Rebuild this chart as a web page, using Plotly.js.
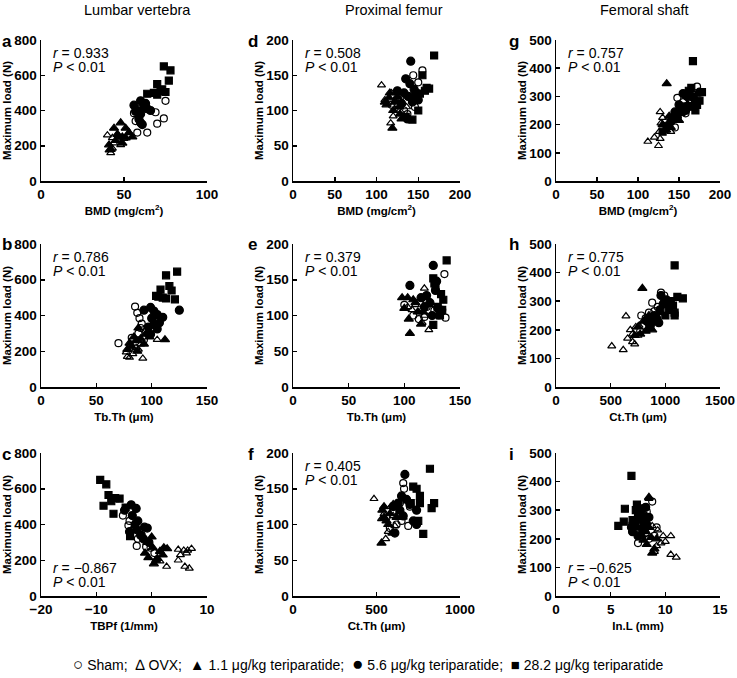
<!DOCTYPE html>
<html>
<head>
<meta charset="utf-8">
<script src="https://cdn.plot.ly/plotly-3.0.1.min.js"></script>
<style>html,body{margin:0;padding:0;background:#fff;}#chart{width:737px;height:678px;}</style>
</head>
<body>
<div id="chart"></div>
<script>
// ---------- DATA ----------
const groupNames = ['Sham', 'OVX', '1.1 μg/kg teriparatide', '5.6 μg/kg teriparatide', '28.2 μg/kg teriparatide'];
const legendGlyphs = ['○', '∆', '▲', '●', '■'];
const columnTitles = ['Lumbar vertebra', 'Proximal femur', 'Femoral shaft'];
const panelLetters = ['a', 'b', 'c', 'd', 'e', 'f', 'g', 'h', 'i'];
const xTitles = ['BMD (mg/cm<sup>2</sup>)', 'Tb.Th (μm)', 'TBPf (1/mm)', 'BMD (mg/cm<sup>2</sup>)', 'Tb.Th (μm)', 'Ct.Th (μm)', 'BMD (mg/cm<sup>2</sup>)', 'Ct.Th (μm)', 'In.L (mm)'];
const yTitle = 'Maximum load (N)';
const rValues = ['0.933', '0.786', '−0.867', '0.508', '0.379', '0.405', '0.757', '0.775', '−0.625'];
const pText = '<i>P</i> < 0.01';
const xRanges = [[0, 100], [0, 150], [-20, 10], [0, 200], [0, 150], [0, 1000], [0, 200], [0, 1500], [0, 15]];
const xDticks = [50, 50, 10, 50, 50, 500, 50, 500, 5];
const yRanges = [[0, 800], [0, 800], [0, 800], [0, 200], [0, 200], [0, 200], [0, 500], [0, 500], [0, 500]];
const yDticks = [200, 200, 200, 50, 50, 50, 100, 100, 100];

// a: Lumbar vertebra, BMD
const a_sham_x = [75, 74, 69, 70, 64, 58, 56, 59, 62, 57];
const a_sham_y = [455, 355, 390, 325, 275, 275, 385, 410, 420, 340];
const a_ovx_x = [40, 41, 42, 43, 44, 46, 48, 43, 47, 50];
const a_ovx_y = [260, 175, 160, 185, 215, 235, 205, 245, 255, 240];
const a_t1_x = [48, 44, 51, 53, 46, 49, 55, 45, 51, 41, 42, 49];
const a_t1_y = [330, 300, 300, 275, 265, 250, 250, 230, 245, 205, 180, 215];
const a_t5_x = [56, 60, 62, 58, 60, 64, 59, 60, 61, 66, 57, 63];
const a_t5_y = [430, 455, 420, 400, 380, 410, 350, 330, 320, 400, 395, 440];
const a_t28_x = [74, 78, 77, 70, 75, 70, 64, 72, 68, 73];
const a_t28_y = [650, 628, 570, 550, 505, 490, 495, 510, 500, 520];

// b: Lumbar vertebra, Tb.Th
const b_sham_x = [70, 85, 87, 89, 91, 82, 88, 93, 90, 95];
const b_sham_y = [245, 450, 415, 385, 355, 275, 300, 265, 330, 310];
const b_ovx_x = [77, 78, 80, 83, 86, 90, 92, 88, 105, 81];
const b_ovx_y = [195, 170, 165, 185, 220, 240, 160, 210, 265, 240];
const b_t1_x = [88, 95, 84, 90, 86, 80, 93, 82, 78, 98, 112, 87];
const b_t1_y = [330, 300, 280, 270, 260, 245, 240, 225, 210, 280, 265, 200];
const b_t5_x = [93, 99, 102, 105, 100, 102, 105, 99, 110, 125, 97, 107];
const b_t5_y = [430, 445, 425, 405, 385, 350, 325, 295, 390, 430, 335, 360];
const b_t28_x = [113, 123, 116, 108, 118, 110, 106, 121, 113, 104];
const b_t28_y = [625, 645, 565, 545, 540, 500, 505, 490, 495, 510];

// c: Lumbar vertebra, TBPf
const c_sham_x = [-5.2, -4.2, -3.2, -2.5, -2.7, -1, -0.2, 0.5, -4, -1.8];
const c_sham_y = [450, 395, 375, 320, 280, 275, 270, 240, 420, 340];
const c_ovx_x = [4.8, 5.8, 6.5, 7.2, 5.2, 6.3, 4.8, 6, 6.8, 2.7, 1.5];
const c_ovx_y = [260, 255, 255, 265, 230, 240, 200, 165, 155, 165, 195];
const c_t1_x = [0, -0.8, 0.2, 1.5, 2.2, 2.8, 0.4, -0.6, 1, 2, -1.2, 0.8];
const c_t1_y = [330, 300, 270, 250, 270, 265, 180, 215, 210, 230, 240, 200];
const c_t5_x = [-3.7, -2.8, -4.9, -3.5, -2.5, -1.3, -0.8, -3, -4, -2, -1.5, -0.5, -2.7];
const c_t5_y = [510, 490, 480, 450, 420, 385, 380, 400, 360, 340, 320, 300, 370];
const c_t28_x = [-9.3, -8.2, -7.8, -6.6, -8.7, -6.9, -5.8, -7.3, -4.7, -3.9];
const c_t28_y = [650, 625, 565, 548, 505, 460, 545, 530, 495, 335];

// d: Proximal femur, BMD
const d_sham_x = [144, 155, 140, 133, 137, 125, 150, 146, 128, 118];
const d_sham_y = [150, 157, 120, 100, 95, 110, 140, 105, 118, 108];
const d_ovx_x = [106, 117, 120, 113, 123, 128, 132, 118, 110, 136];
const d_ovx_y = [136, 82, 92, 110, 115, 100, 125, 125, 115, 105];
const d_t1_x = [119, 115, 112, 120, 125, 128, 116, 122, 130, 110, 127];
const d_t1_y = [75, 118, 108, 100, 120, 95, 125, 112, 88, 112, 105];
const d_t5_x = [141, 135, 140, 145, 138, 143, 148, 133, 130, 137, 150, 125];
const d_t5_y = [170, 145, 138, 130, 120, 112, 125, 125, 110, 88, 115, 128];
const d_t28_x = [169, 160, 163, 152, 146, 143, 135, 155, 150, 158];
const d_t28_y = [178, 132, 131, 124, 118, 87, 91, 150, 100, 128];

// e: Proximal femur, Tb.Th
const e_sham_x = [136, 100, 137, 131, 127, 120, 113, 108, 134, 118];
const e_sham_y = [158, 115, 97, 100, 107, 112, 95, 100, 108, 98];
const e_ovx_x = [118, 110, 122, 116, 113, 120, 107, 125, 118, 103];
const e_ovx_y = [138, 115, 80, 90, 105, 120, 108, 115, 100, 112];
const e_t1_x = [98, 103, 108, 105, 104, 112, 115, 110, 100, 117, 120];
const e_t1_y = [125, 125, 122, 75, 95, 105, 88, 118, 110, 105, 125];
const e_t5_x = [126, 105, 129, 120, 123, 130, 125, 118, 128, 115];
const e_t5_y = [170, 142, 148, 128, 118, 110, 100, 112, 135, 125];
const e_t28_x = [138, 126, 127, 133, 135, 130, 126, 128, 132, 134];
const e_t28_y = [177, 152, 145, 130, 122, 112, 87, 140, 100, 108];

// f: Proximal femur, Ct.Th
const f_sham_x = [660, 665, 640, 600, 620, 690, 560, 650, 580, 700];
const f_sham_y = [158, 150, 130, 118, 100, 98, 110, 105, 95, 125];
const f_ovx_x = [485, 555, 530, 570, 600, 640, 545, 610, 660, 585];
const f_ovx_y = [136, 80, 108, 90, 112, 120, 115, 98, 110, 125];
const f_t1_x = [530, 535, 545, 560, 580, 600, 620, 570, 640, 545, 595];
const f_t1_y = [74, 120, 125, 105, 115, 128, 110, 100, 118, 110, 88];
const f_t5_x = [670, 650, 640, 700, 720, 740, 610, 660, 680, 740, 630, 600];
const f_t5_y = [170, 140, 120, 128, 105, 120, 88, 112, 135, 100, 130, 125];
const f_t28_x = [820, 845, 830, 760, 740, 720, 780, 705, 750, 760];
const f_t28_y = [178, 130, 123, 140, 150, 153, 87, 130, 105, 130];

// g: Femoral shaft, BMD
const g_sham_x = [172, 148, 145, 140, 150, 155, 158, 160, 142, 165];
const g_sham_y = [335, 295, 190, 210, 250, 280, 240, 260, 225, 290];
const g_ovx_x = [112, 125, 120, 127, 126, 128, 127, 135, 140, 137, 130];
const g_ovx_y = [140, 125, 155, 150, 175, 205, 245, 180, 175, 200, 225];
const g_t1_x = [135, 130, 138, 145, 150, 148, 155, 140, 160, 133, 152];
const g_t1_y = [345, 200, 230, 235, 215, 250, 260, 190, 270, 180, 240];
const g_t5_x = [155, 145, 150, 160, 165, 170, 140, 148, 158, 175, 135, 165];
const g_t5_y = [310, 245, 270, 300, 300, 280, 210, 225, 250, 315, 195, 265];
const g_t28_x = [167, 165, 162, 178, 175, 170, 160, 130, 168, 172];
const g_t28_y = [425, 330, 320, 315, 285, 250, 265, 175, 300, 270];

// h: Femoral shaft, Ct.Th
const h_sham_x = [960, 880, 850, 780, 800, 770, 900, 930, 990, 820];
const h_sham_y = [330, 295, 260, 250, 215, 195, 265, 280, 320, 240];
const h_ovx_x = [510, 615, 640, 655, 700, 720, 730, 680, 750, 760, 700];
const h_ovx_y = [143, 130, 248, 170, 158, 150, 210, 200, 180, 215, 185];
const h_t1_x = [790, 750, 720, 770, 800, 860, 880, 900, 950, 820, 850];
const h_t1_y = [345, 210, 180, 185, 230, 220, 200, 240, 260, 195, 250];
const h_t5_x = [960, 1000, 980, 950, 920, 880, 860, 1010, 900, 940, 1040, 830];
const h_t5_y = [320, 300, 290, 270, 240, 230, 210, 305, 250, 225, 285, 230];
const h_t28_x = [1085, 1110, 1160, 1070, 1085, 1085, 1000, 1050, 990, 1030];
const h_t28_y = [425, 315, 310, 285, 260, 250, 250, 300, 290, 270];

// i: Femoral shaft, In.L
const i_sham_x = [8.8, 8.3, 9.2, 8, 7.5, 8.5, 7.8, 9, 7.2, 8.2];
const i_sham_y = [330, 295, 240, 255, 185, 200, 230, 210, 250, 220];
const i_ovx_x = [11, 10.5, 9.8, 10.5, 9.2, 9, 9.6, 8.8, 8.5, 10, 9.3];
const i_ovx_y = [135, 145, 210, 210, 175, 155, 185, 245, 340, 190, 230];
const i_t1_x = [8.5, 8.3, 8, 8.7, 9, 7.8, 8.2, 8.8, 7.5, 9.2, 8.5];
const i_t1_y = [345, 180, 195, 205, 165, 215, 225, 150, 240, 200, 240];
const i_t5_x = [7.8, 8.2, 7, 7.5, 8.1, 7.6, 8.5, 7.2, 8, 7.9, 6.9, 8.3];
const i_t5_y = [305, 310, 225, 210, 280, 270, 275, 250, 260, 235, 240, 250];
const i_t28_x = [6.9, 6.3, 6.2, 5.7, 7, 7.4, 7.5, 7.6, 7.3, 7];
const i_t28_y = [420, 305, 260, 245, 245, 320, 290, 275, 300, 265];

const panelData = [
  [[a_sham_x, a_sham_y], [a_ovx_x, a_ovx_y], [a_t1_x, a_t1_y], [a_t5_x, a_t5_y], [a_t28_x, a_t28_y]],
  [[b_sham_x, b_sham_y], [b_ovx_x, b_ovx_y], [b_t1_x, b_t1_y], [b_t5_x, b_t5_y], [b_t28_x, b_t28_y]],
  [[c_sham_x, c_sham_y], [c_ovx_x, c_ovx_y], [c_t1_x, c_t1_y], [c_t5_x, c_t5_y], [c_t28_x, c_t28_y]],
  [[d_sham_x, d_sham_y], [d_ovx_x, d_ovx_y], [d_t1_x, d_t1_y], [d_t5_x, d_t5_y], [d_t28_x, d_t28_y]],
  [[e_sham_x, e_sham_y], [e_ovx_x, e_ovx_y], [e_t1_x, e_t1_y], [e_t5_x, e_t5_y], [e_t28_x, e_t28_y]],
  [[f_sham_x, f_sham_y], [f_ovx_x, f_ovx_y], [f_t1_x, f_t1_y], [f_t5_x, f_t5_y], [f_t28_x, f_t28_y]],
  [[g_sham_x, g_sham_y], [g_ovx_x, g_ovx_y], [g_t1_x, g_t1_y], [g_t5_x, g_t5_y], [g_t28_x, g_t28_y]],
  [[h_sham_x, h_sham_y], [h_ovx_x, h_ovx_y], [h_t1_x, h_t1_y], [h_t5_x, h_t5_y], [h_t28_x, h_t28_y]],
  [[i_sham_x, i_sham_y], [i_ovx_x, i_ovx_y], [i_t1_x, i_t1_y], [i_t5_x, i_t5_y], [i_t28_x, i_t28_y]]
];

// ---------- STYLE / LAYOUT ----------
const W = 737, H = 678;
const FONT = 'Arial, "Liberation Sans", Helvetica, sans-serif';
const symbols = ['circle-open', 'triangle-up-open', 'triangle-up', 'circle', 'square'];
const sizes = [7, 7, 8, 8, 7];
const glyphSizes = [17, 15, 15, 19, 15];
// pixel boxes of plot areas: columns (left,right), rows (top,bottom)
const colPx = [[41, 207], [293, 460], [556, 720]];
const rowPx = [[40, 181], [244, 387], [453, 596]];

const traces = [];
const layout = {
  width: W, height: H,
  margin: {l: 0, r: 0, t: 0, b: 0},
  paper_bgcolor: '#fff', plot_bgcolor: '#fff',
  font: {family: FONT, color: '#000'},
  showlegend: false,
  annotations: []
};

for (let p = 0; p < 9; p++) {
  const col = Math.floor(p / 3), row = p % 3;
  const n = p + 1;
  const xa = 'xaxis' + (n === 1 ? '' : n), ya = 'yaxis' + (n === 1 ? '' : n);
  const xr = 'x' + (n === 1 ? '' : n), yr = 'y' + (n === 1 ? '' : n);
  const axisCommon = {
    showline: true, linecolor: '#000', linewidth: 1.5, mirror: false,
    ticks: 'inside', ticklen: 4, tickwidth: 1.5, tickcolor: '#000',
    showgrid: false, zeroline: false, fixedrange: true,
    tickfont: {family: FONT, size: 13.5, color: '#000', weight: 'bold'}
  };
  layout[xa] = Object.assign({}, axisCommon, {
    domain: [colPx[col][0] / W, colPx[col][1] / W],
    anchor: yr, range: xRanges[p], dtick: xDticks[p], tick0: 0,
    title: {text: xTitles[p], font: {family: FONT, size: 11.5, color: '#000', weight: 'bold'}, standoff: 6}
  });
  layout[ya] = Object.assign({}, axisCommon, {
    domain: [1 - rowPx[row][1] / H, 1 - rowPx[row][0] / H],
    anchor: xr, range: yRanges[p], dtick: yDticks[p], tick0: 0,
    title: {text: yTitle, font: {family: FONT, size: 11.5, color: '#000', weight: 'bold'}, standoff: 0}
  });
  panelData[p].forEach((g, k) => {
    traces.push({
      type: 'scatter', mode: 'markers', x: g[0], y: g[1],
      xaxis: xr, yaxis: yr, name: groupNames[k],
      cliponaxis: false,
      marker: {symbol: symbols[k], size: sizes[k], color: '#000', line: {color: '#000', width: 1.2}}
    });
  });
  // panel letter
  const letterX = [0, 246, 507][col];
  layout.annotations.push({
    xref: 'paper', yref: 'paper', x: letterX / W, y: 1 - (rowPx[row][0] + 1) / H,
    xanchor: 'left', yanchor: 'middle', showarrow: false,
    text: panelLetters[p], font: {family: FONT, size: 17, color: '#000', weight: 'bold'}
  });
  // r and P
  const bottom = (p === 2 || p === 8);
  const rY = bottom ? rowPx[row][1] - 28 : rowPx[row][0] + 13;
  layout.annotations.push({
    xref: 'paper', yref: 'paper', x: (colPx[col][0] + 10) / W, y: 1 - rY / H,
    xanchor: 'left', yanchor: 'middle', showarrow: false,
    text: '<i>r</i> = ' + rValues[p], font: {family: FONT, size: 14, color: '#000'}
  });
  layout.annotations.push({
    xref: 'paper', yref: 'paper', x: (colPx[col][0] + 10) / W, y: 1 - (rY + 13.5) / H,
    xanchor: 'left', yanchor: 'middle', showarrow: false,
    text: pText, font: {family: FONT, size: 14, color: '#000'}
  });
}
// column titles
const colTitleX = [137, 394, 644];
columnTitles.forEach((t, c) => {
  layout.annotations.push({
    xref: 'paper', yref: 'paper', x: colTitleX[c] / W, y: 1 - 10 / H,
    xanchor: 'center', yanchor: 'middle', showarrow: false,
    text: t, font: {family: FONT, size: 14.5, color: '#000'}
  });
});
// group key at the bottom
const keyText = groupNames.map((g, k) =>
  '<span style="font-size:' + glyphSizes[k] + 'px">' + legendGlyphs[k] + '</span> ' + g).join(';  ');
layout.annotations.push({
  xref: 'paper', yref: 'paper', x: 368 / W, y: 1 - 663 / H,
  xanchor: 'center', yanchor: 'middle', showarrow: false,
  text: keyText, font: {family: FONT, size: 14, color: '#000'}
});

Plotly.newPlot('chart', traces, layout, {staticPlot: true, displayModeBar: false});
</script>
</body>
</html>
